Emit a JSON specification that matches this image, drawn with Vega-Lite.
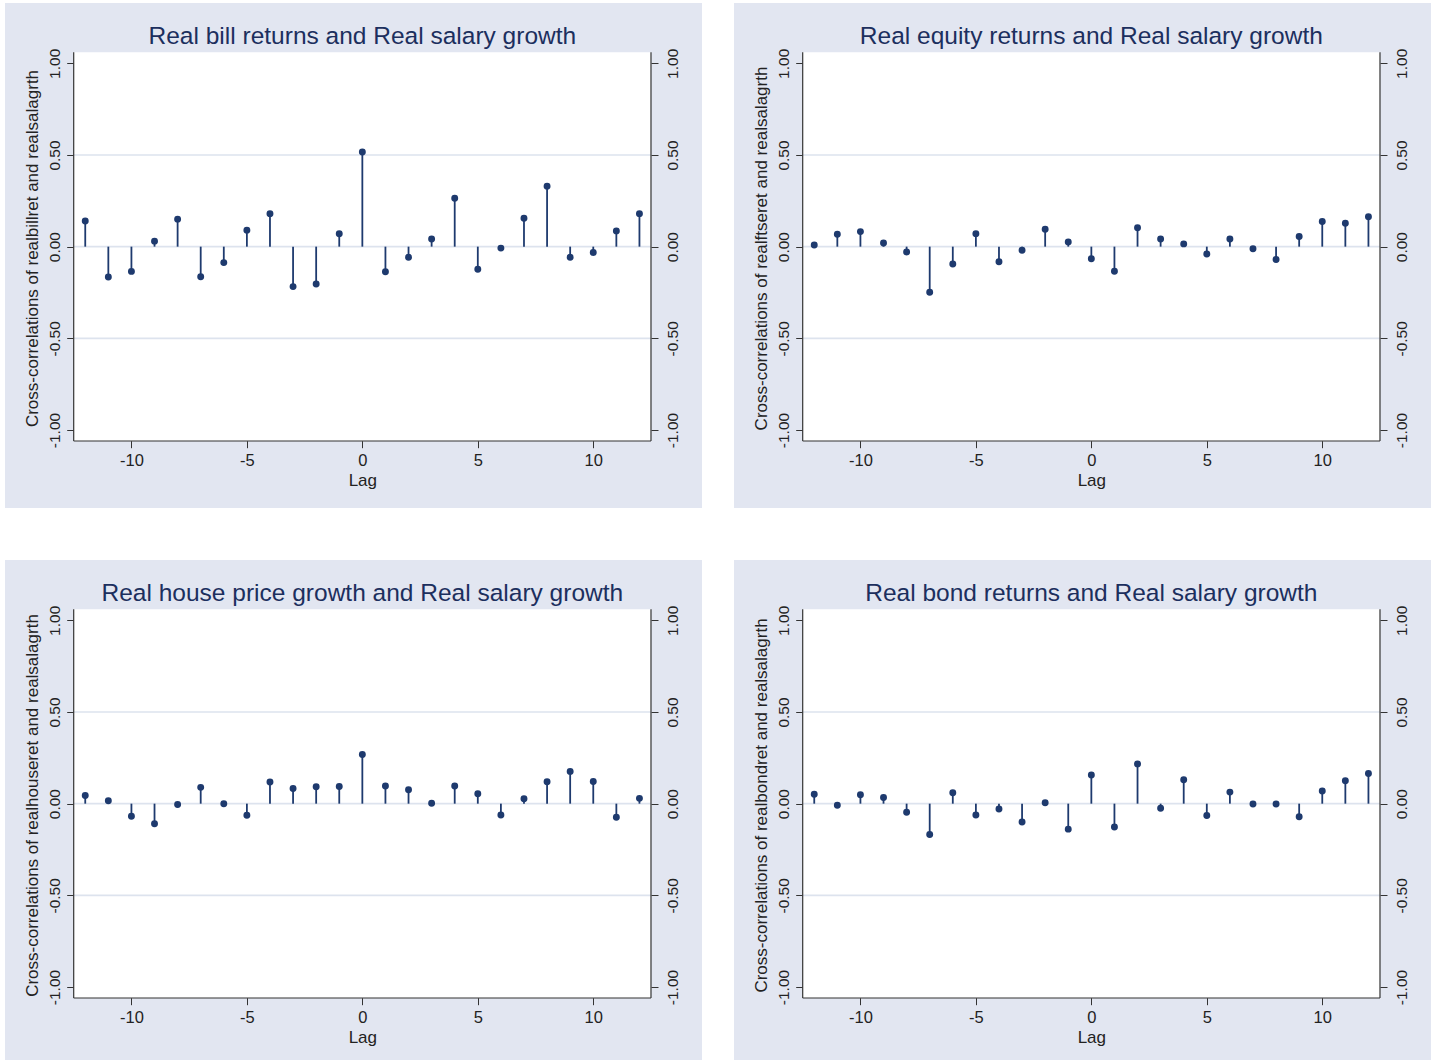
{
  "$schema": "https://vega.github.io/schema/vega-lite/v6.json",
  "padding": {"left": 5, "top": 3, "right": 0, "bottom": 0},
  "background": "white",
  "config": {
    "view": {"fill": "#e2e6f1", "stroke": null},
    "font": "Liberation Sans",
    "axis": {"labelFont": "Liberation Sans", "titleFont": "Liberation Sans"}
  },
  "datasets": {
    "bill": [
      {"lag": -12, "r": 0.14}, {"lag": -11, "r": -0.166}, {"lag": -10, "r": -0.135}, {"lag": -9, "r": 0.03},
      {"lag": -8, "r": 0.15}, {"lag": -7, "r": -0.164}, {"lag": -6, "r": -0.087}, {"lag": -5, "r": 0.09},
      {"lag": -4, "r": 0.18}, {"lag": -3, "r": -0.218}, {"lag": -2, "r": -0.204}, {"lag": -1, "r": 0.07},
      {"lag": 0, "r": 0.516}, {"lag": 1, "r": -0.137}, {"lag": 2, "r": -0.058}, {"lag": 3, "r": 0.042},
      {"lag": 4, "r": 0.264}, {"lag": 5, "r": -0.123}, {"lag": 6, "r": -0.008}, {"lag": 7, "r": 0.155},
      {"lag": 8, "r": 0.33}, {"lag": 9, "r": -0.058}, {"lag": 10, "r": -0.032}, {"lag": 11, "r": 0.086},
      {"lag": 12, "r": 0.18}
    ],
    "equity": [
      {"lag": -12, "r": 0.009}, {"lag": -11, "r": 0.068}, {"lag": -10, "r": 0.082}, {"lag": -9, "r": 0.02},
      {"lag": -8, "r": -0.029}, {"lag": -7, "r": -0.249}, {"lag": -6, "r": -0.095}, {"lag": -5, "r": 0.071},
      {"lag": -4, "r": -0.082}, {"lag": -3, "r": -0.02}, {"lag": -2, "r": 0.095}, {"lag": -1, "r": 0.026},
      {"lag": 0, "r": -0.066}, {"lag": 1, "r": -0.134}, {"lag": 2, "r": 0.103}, {"lag": 3, "r": 0.042},
      {"lag": 4, "r": 0.015}, {"lag": 5, "r": -0.04}, {"lag": 6, "r": 0.042}, {"lag": 7, "r": -0.011},
      {"lag": 8, "r": -0.07}, {"lag": 9, "r": 0.055}, {"lag": 10, "r": 0.137}, {"lag": 11, "r": 0.128},
      {"lag": 12, "r": 0.163}
    ],
    "house": [
      {"lag": -12, "r": 0.045}, {"lag": -11, "r": 0.016}, {"lag": -10, "r": -0.069}, {"lag": -9, "r": -0.11},
      {"lag": -8, "r": -0.005}, {"lag": -7, "r": 0.089}, {"lag": -6, "r": 0.0}, {"lag": -5, "r": -0.063},
      {"lag": -4, "r": 0.118}, {"lag": -3, "r": 0.083}, {"lag": -2, "r": 0.092}, {"lag": -1, "r": 0.094},
      {"lag": 0, "r": 0.268}, {"lag": 1, "r": 0.096}, {"lag": 2, "r": 0.076}, {"lag": 3, "r": 0.002},
      {"lag": 4, "r": 0.096}, {"lag": 5, "r": 0.054}, {"lag": 6, "r": -0.062}, {"lag": 7, "r": 0.027},
      {"lag": 8, "r": 0.12}, {"lag": 9, "r": 0.176}, {"lag": 10, "r": 0.121}, {"lag": 11, "r": -0.074},
      {"lag": 12, "r": 0.029}
    ],
    "bond": [
      {"lag": -12, "r": 0.051}, {"lag": -11, "r": -0.009}, {"lag": -10, "r": 0.049}, {"lag": -9, "r": 0.034},
      {"lag": -8, "r": -0.047}, {"lag": -7, "r": -0.168}, {"lag": -6, "r": 0.06}, {"lag": -5, "r": -0.062},
      {"lag": -4, "r": -0.029}, {"lag": -3, "r": -0.1}, {"lag": -2, "r": 0.005}, {"lag": -1, "r": -0.139},
      {"lag": 0, "r": 0.156}, {"lag": 1, "r": -0.127}, {"lag": 2, "r": 0.217}, {"lag": 3, "r": -0.025},
      {"lag": 4, "r": 0.13}, {"lag": 5, "r": -0.065}, {"lag": 6, "r": 0.063}, {"lag": 7, "r": -0.002},
      {"lag": 8, "r": -0.002}, {"lag": 9, "r": -0.071}, {"lag": 10, "r": 0.069}, {"lag": 11, "r": 0.125},
      {"lag": 12, "r": 0.165}
    ],
    "grid": [{"g": -0.5}, {"g": 0}, {"g": 0.5}],
    "one": [{}]
  },
  "spacing": 52,
  "vconcat": [
    {
      "spacing": 32,
      "hconcat": [
        {
          "width": 697, "height": 505,
          "title": {"text": "Real bill returns and Real salary growth", "offset": -65, "baseline": "alphabetic", "dx": 8.85, "fontSize": 24.5, "font": "Liberation Sans", "fontWeight": "normal", "color": "#1c2f5e", "anchor": "middle", "frame": "group"},
          "resolve": {"axis": {"x": "independent", "y": "independent"}},
          "layer": [
            {"data": {"name": "one"}, "mark": {"type": "rect", "fill": "white"},
             "encoding": {
               "x": {"datum": -12.5, "type": "quantitative", "scale": {"domain": [-15.475, 14.709], "nice": false, "zero": false}, "axis": null},
               "x2": {"datum": 12.5},
               "y": {"datum": -1.06, "type": "quantitative", "scale": {"domain": [-1.4254, 1.3289], "nice": false, "zero": false}, "axis": null},
               "y2": {"datum": 1.06}}},
            {"data": {"name": "grid"}, "mark": {"type": "rule", "color": "#dde3ee", "strokeWidth": 1.6},
             "encoding": {
               "x": {"datum": -12.5, "type": "quantitative", "scale": {"domain": [-15.475, 14.709], "nice": false, "zero": false}, "axis": null},
               "x2": {"datum": 12.5},
               "y": {"field": "g", "type": "quantitative", "scale": {"domain": [-1.4254, 1.3289], "nice": false, "zero": false}, "axis": null}}},
            {"data": {"name": "one"}, "mark": {"type": "rule", "color": "#333333", "strokeWidth": 1.2},
             "encoding": {
               "x": {"datum": -12.5, "type": "quantitative", "scale": {"domain": [-15.475, 14.709], "nice": false, "zero": false}, "axis": null},
               "y": {"datum": -1.06, "type": "quantitative", "scale": {"domain": [-1.4254, 1.3289], "nice": false, "zero": false}, "axis": null},
               "y2": {"datum": 1.06}}},
            {"data": {"name": "one"}, "mark": {"type": "rule", "color": "#333333", "strokeWidth": 1.2},
             "encoding": {
               "x": {"datum": 12.5, "type": "quantitative", "scale": {"domain": [-15.475, 14.709], "nice": false, "zero": false}, "axis": null},
               "y": {"datum": -1.06, "type": "quantitative", "scale": {"domain": [-1.4254, 1.3289], "nice": false, "zero": false}, "axis": null},
               "y2": {"datum": 1.06}}},
            {"data": {"name": "one"}, "mark": {"type": "rule", "color": "#333333", "strokeWidth": 1.2},
             "encoding": {
               "x": {"datum": -12.5, "type": "quantitative", "scale": {"domain": [-15.475, 14.709], "nice": false, "zero": false}, "axis": null},
               "x2": {"datum": 12.5},
               "y": {"datum": -1.06, "type": "quantitative", "scale": {"domain": [-1.4254, 1.3289], "nice": false, "zero": false}, "axis": null}}},
            {"data": {"name": "bill"}, "mark": {"type": "rule", "color": "#1e3a6e", "strokeWidth": 1.8},
             "encoding": {
               "x": {"field": "lag", "type": "quantitative", "scale": {"domain": [-15.475, 14.709], "nice": false, "zero": false},
                 "axis": {"orient": "bottom", "offset": -67.3, "values": [-10, -5, 0, 5, 10], "labelExpr": "replace(datum.label, '\u2212', '-')", "domain": false, "grid": false, "tickSize": 7, "tickColor": "#333333", "labelFontSize": 16.5, "labelColor": "#222222", "labelPadding": 5, "labelFlush": false, "title": "Lag", "titleFontSize": 17, "titleFontWeight": "normal", "titleColor": "#222222", "titleBaseline": "alphabetic", "titleAlign": "center", "titleX": 357.35, "titleY": 44.8}},
               "y": {"field": "r", "type": "quantitative", "scale": {"domain": [-1.4254, 1.3289], "nice": false, "zero": false},
                 "axis": {"orient": "left", "offset": -68.7, "values": [-1, -0.5, 0, 0.5, 1], "format": ".2f", "labelExpr": "replace(datum.label, '\u2212', '-')", "domain": false, "grid": false, "tickSize": 7, "tickColor": "#333333", "labelAngle": -90, "labelAlign": "center", "labelBaseline": "alphabetic", "labelPadding": 7.4, "labelFontSize": 15.5, "labelColor": "#222222", "labelFlush": false, "labelOverlap": false, "title": "Cross-correlations of realbillret and realsalagrth", "titleFontSize": 17, "titleFontWeight": "normal", "titleColor": "#222222", "titleAngle": -90, "titleBaseline": "alphabetic", "titleAlign": "center", "titleX": -36.2, "titleY": 245}},
               "y2": {"datum": 0}}},
            {"data": {"name": "bill"}, "mark": {"type": "point", "filled": true, "shape": "circle", "size": 48, "color": "#1e3a6e", "opacity": 1},
             "encoding": {
               "x": {"field": "lag", "type": "quantitative", "scale": {"domain": [-15.475, 14.709], "nice": false, "zero": false}, "axis": null},
               "y": {"field": "r", "type": "quantitative", "scale": {"domain": [-1.4254, 1.3289], "nice": false, "zero": false},
                 "axis": {"orient": "right", "offset": -51, "values": [-1, -0.5, 0, 0.5, 1], "format": ".2f", "labelExpr": "replace(datum.label, '\u2212', '-')", "domain": false, "grid": false, "tickSize": 7, "tickColor": "#333333", "labelAngle": -90, "labelAlign": "center", "labelBaseline": "alphabetic", "labelPadding": 19.8, "labelFontSize": 15.5, "labelColor": "#222222", "labelFlush": false, "labelOverlap": false, "title": null}}}}
          ]
        },
        {
          "width": 697, "height": 505,
          "title": {"text": "Real equity returns and Real salary growth", "offset": -65, "baseline": "alphabetic", "dx": 8.85, "fontSize": 24.5, "font": "Liberation Sans", "fontWeight": "normal", "color": "#1c2f5e", "anchor": "middle", "frame": "group"},
          "resolve": {"axis": {"x": "independent", "y": "independent"}},
          "layer": [
            {"data": {"name": "one"}, "mark": {"type": "rect", "fill": "white"},
             "encoding": {
               "x": {"datum": -12.5, "type": "quantitative", "scale": {"domain": [-15.475, 14.709], "nice": false, "zero": false}, "axis": null},
               "x2": {"datum": 12.5},
               "y": {"datum": -1.06, "type": "quantitative", "scale": {"domain": [-1.4254, 1.3289], "nice": false, "zero": false}, "axis": null},
               "y2": {"datum": 1.06}}},
            {"data": {"name": "grid"}, "mark": {"type": "rule", "color": "#dde3ee", "strokeWidth": 1.6},
             "encoding": {
               "x": {"datum": -12.5, "type": "quantitative", "scale": {"domain": [-15.475, 14.709], "nice": false, "zero": false}, "axis": null},
               "x2": {"datum": 12.5},
               "y": {"field": "g", "type": "quantitative", "scale": {"domain": [-1.4254, 1.3289], "nice": false, "zero": false}, "axis": null}}},
            {"data": {"name": "one"}, "mark": {"type": "rule", "color": "#333333", "strokeWidth": 1.2},
             "encoding": {
               "x": {"datum": -12.5, "type": "quantitative", "scale": {"domain": [-15.475, 14.709], "nice": false, "zero": false}, "axis": null},
               "y": {"datum": -1.06, "type": "quantitative", "scale": {"domain": [-1.4254, 1.3289], "nice": false, "zero": false}, "axis": null},
               "y2": {"datum": 1.06}}},
            {"data": {"name": "one"}, "mark": {"type": "rule", "color": "#333333", "strokeWidth": 1.2},
             "encoding": {
               "x": {"datum": 12.5, "type": "quantitative", "scale": {"domain": [-15.475, 14.709], "nice": false, "zero": false}, "axis": null},
               "y": {"datum": -1.06, "type": "quantitative", "scale": {"domain": [-1.4254, 1.3289], "nice": false, "zero": false}, "axis": null},
               "y2": {"datum": 1.06}}},
            {"data": {"name": "one"}, "mark": {"type": "rule", "color": "#333333", "strokeWidth": 1.2},
             "encoding": {
               "x": {"datum": -12.5, "type": "quantitative", "scale": {"domain": [-15.475, 14.709], "nice": false, "zero": false}, "axis": null},
               "x2": {"datum": 12.5},
               "y": {"datum": -1.06, "type": "quantitative", "scale": {"domain": [-1.4254, 1.3289], "nice": false, "zero": false}, "axis": null}}},
            {"data": {"name": "equity"}, "mark": {"type": "rule", "color": "#1e3a6e", "strokeWidth": 1.8},
             "encoding": {
               "x": {"field": "lag", "type": "quantitative", "scale": {"domain": [-15.475, 14.709], "nice": false, "zero": false},
                 "axis": {"orient": "bottom", "offset": -67.3, "values": [-10, -5, 0, 5, 10], "labelExpr": "replace(datum.label, '\u2212', '-')", "domain": false, "grid": false, "tickSize": 7, "tickColor": "#333333", "labelFontSize": 16.5, "labelColor": "#222222", "labelPadding": 5, "labelFlush": false, "title": "Lag", "titleFontSize": 17, "titleFontWeight": "normal", "titleColor": "#222222", "titleBaseline": "alphabetic", "titleAlign": "center", "titleX": 357.35, "titleY": 44.8}},
               "y": {"field": "r", "type": "quantitative", "scale": {"domain": [-1.4254, 1.3289], "nice": false, "zero": false},
                 "axis": {"orient": "left", "offset": -68.7, "values": [-1, -0.5, 0, 0.5, 1], "format": ".2f", "labelExpr": "replace(datum.label, '\u2212', '-')", "domain": false, "grid": false, "tickSize": 7, "tickColor": "#333333", "labelAngle": -90, "labelAlign": "center", "labelBaseline": "alphabetic", "labelPadding": 7.4, "labelFontSize": 15.5, "labelColor": "#222222", "labelFlush": false, "labelOverlap": false, "title": "Cross-correlations of realftseret and realsalagrth", "titleFontSize": 17, "titleFontWeight": "normal", "titleColor": "#222222", "titleAngle": -90, "titleBaseline": "alphabetic", "titleAlign": "center", "titleX": -36.2, "titleY": 245}},
               "y2": {"datum": 0}}},
            {"data": {"name": "equity"}, "mark": {"type": "point", "filled": true, "shape": "circle", "size": 48, "color": "#1e3a6e", "opacity": 1},
             "encoding": {
               "x": {"field": "lag", "type": "quantitative", "scale": {"domain": [-15.475, 14.709], "nice": false, "zero": false}, "axis": null},
               "y": {"field": "r", "type": "quantitative", "scale": {"domain": [-1.4254, 1.3289], "nice": false, "zero": false},
                 "axis": {"orient": "right", "offset": -51, "values": [-1, -0.5, 0, 0.5, 1], "format": ".2f", "labelExpr": "replace(datum.label, '\u2212', '-')", "domain": false, "grid": false, "tickSize": 7, "tickColor": "#333333", "labelAngle": -90, "labelAlign": "center", "labelBaseline": "alphabetic", "labelPadding": 19.8, "labelFontSize": 15.5, "labelColor": "#222222", "labelFlush": false, "labelOverlap": false, "title": null}}}}
          ]
        }
      ]
    },
    {
      "spacing": 32,
      "hconcat": [
        {
          "width": 697, "height": 500,
          "title": {"text": "Real house price growth and Real salary growth", "offset": -65, "baseline": "alphabetic", "dx": 8.85, "fontSize": 24.5, "font": "Liberation Sans", "fontWeight": "normal", "color": "#1c2f5e", "anchor": "middle", "frame": "group"},
          "resolve": {"axis": {"x": "independent", "y": "independent"}},
          "layer": [
            {"data": {"name": "one"}, "mark": {"type": "rect", "fill": "white"},
             "encoding": {
               "x": {"datum": -12.5, "type": "quantitative", "scale": {"domain": [-15.475, 14.709], "nice": false, "zero": false}, "axis": null},
               "x2": {"datum": 12.5},
               "y": {"datum": -1.06, "type": "quantitative", "scale": {"domain": [-1.398, 1.3289], "nice": false, "zero": false}, "axis": null},
               "y2": {"datum": 1.06}}},
            {"data": {"name": "grid"}, "mark": {"type": "rule", "color": "#dde3ee", "strokeWidth": 1.6},
             "encoding": {
               "x": {"datum": -12.5, "type": "quantitative", "scale": {"domain": [-15.475, 14.709], "nice": false, "zero": false}, "axis": null},
               "x2": {"datum": 12.5},
               "y": {"field": "g", "type": "quantitative", "scale": {"domain": [-1.398, 1.3289], "nice": false, "zero": false}, "axis": null}}},
            {"data": {"name": "one"}, "mark": {"type": "rule", "color": "#333333", "strokeWidth": 1.2},
             "encoding": {
               "x": {"datum": -12.5, "type": "quantitative", "scale": {"domain": [-15.475, 14.709], "nice": false, "zero": false}, "axis": null},
               "y": {"datum": -1.06, "type": "quantitative", "scale": {"domain": [-1.398, 1.3289], "nice": false, "zero": false}, "axis": null},
               "y2": {"datum": 1.06}}},
            {"data": {"name": "one"}, "mark": {"type": "rule", "color": "#333333", "strokeWidth": 1.2},
             "encoding": {
               "x": {"datum": 12.5, "type": "quantitative", "scale": {"domain": [-15.475, 14.709], "nice": false, "zero": false}, "axis": null},
               "y": {"datum": -1.06, "type": "quantitative", "scale": {"domain": [-1.398, 1.3289], "nice": false, "zero": false}, "axis": null},
               "y2": {"datum": 1.06}}},
            {"data": {"name": "one"}, "mark": {"type": "rule", "color": "#333333", "strokeWidth": 1.2},
             "encoding": {
               "x": {"datum": -12.5, "type": "quantitative", "scale": {"domain": [-15.475, 14.709], "nice": false, "zero": false}, "axis": null},
               "x2": {"datum": 12.5},
               "y": {"datum": -1.06, "type": "quantitative", "scale": {"domain": [-1.398, 1.3289], "nice": false, "zero": false}, "axis": null}}},
            {"data": {"name": "house"}, "mark": {"type": "rule", "color": "#1e3a6e", "strokeWidth": 1.8},
             "encoding": {
               "x": {"field": "lag", "type": "quantitative", "scale": {"domain": [-15.475, 14.709], "nice": false, "zero": false},
                 "axis": {"orient": "bottom", "offset": -62.3, "values": [-10, -5, 0, 5, 10], "labelExpr": "replace(datum.label, '\u2212', '-')", "domain": false, "grid": false, "tickSize": 7, "tickColor": "#333333", "labelFontSize": 16.5, "labelColor": "#222222", "labelPadding": 5, "labelFlush": false, "title": "Lag", "titleFontSize": 17, "titleFontWeight": "normal", "titleColor": "#222222", "titleBaseline": "alphabetic", "titleAlign": "center", "titleX": 357.35, "titleY": 44.8}},
               "y": {"field": "r", "type": "quantitative", "scale": {"domain": [-1.398, 1.3289], "nice": false, "zero": false},
                 "axis": {"orient": "left", "offset": -68.7, "values": [-1, -0.5, 0, 0.5, 1], "format": ".2f", "labelExpr": "replace(datum.label, '\u2212', '-')", "domain": false, "grid": false, "tickSize": 7, "tickColor": "#333333", "labelAngle": -90, "labelAlign": "center", "labelBaseline": "alphabetic", "labelPadding": 7.4, "labelFontSize": 15.5, "labelColor": "#222222", "labelFlush": false, "labelOverlap": false, "title": "Cross-correlations of realhouseret and realsalagrth", "titleFontSize": 17, "titleFontWeight": "normal", "titleColor": "#222222", "titleAngle": -90, "titleBaseline": "alphabetic", "titleAlign": "center", "titleX": -36.2, "titleY": 245}},
               "y2": {"datum": 0}}},
            {"data": {"name": "house"}, "mark": {"type": "point", "filled": true, "shape": "circle", "size": 48, "color": "#1e3a6e", "opacity": 1},
             "encoding": {
               "x": {"field": "lag", "type": "quantitative", "scale": {"domain": [-15.475, 14.709], "nice": false, "zero": false}, "axis": null},
               "y": {"field": "r", "type": "quantitative", "scale": {"domain": [-1.398, 1.3289], "nice": false, "zero": false},
                 "axis": {"orient": "right", "offset": -51, "values": [-1, -0.5, 0, 0.5, 1], "format": ".2f", "labelExpr": "replace(datum.label, '\u2212', '-')", "domain": false, "grid": false, "tickSize": 7, "tickColor": "#333333", "labelAngle": -90, "labelAlign": "center", "labelBaseline": "alphabetic", "labelPadding": 19.8, "labelFontSize": 15.5, "labelColor": "#222222", "labelFlush": false, "labelOverlap": false, "title": null}}}}
          ]
        },
        {
          "width": 697, "height": 500,
          "title": {"text": "Real bond returns and Real salary growth", "offset": -65, "baseline": "alphabetic", "dx": 8.85, "fontSize": 24.5, "font": "Liberation Sans", "fontWeight": "normal", "color": "#1c2f5e", "anchor": "middle", "frame": "group"},
          "resolve": {"axis": {"x": "independent", "y": "independent"}},
          "layer": [
            {"data": {"name": "one"}, "mark": {"type": "rect", "fill": "white"},
             "encoding": {
               "x": {"datum": -12.5, "type": "quantitative", "scale": {"domain": [-15.475, 14.709], "nice": false, "zero": false}, "axis": null},
               "x2": {"datum": 12.5},
               "y": {"datum": -1.06, "type": "quantitative", "scale": {"domain": [-1.398, 1.3289], "nice": false, "zero": false}, "axis": null},
               "y2": {"datum": 1.06}}},
            {"data": {"name": "grid"}, "mark": {"type": "rule", "color": "#dde3ee", "strokeWidth": 1.6},
             "encoding": {
               "x": {"datum": -12.5, "type": "quantitative", "scale": {"domain": [-15.475, 14.709], "nice": false, "zero": false}, "axis": null},
               "x2": {"datum": 12.5},
               "y": {"field": "g", "type": "quantitative", "scale": {"domain": [-1.398, 1.3289], "nice": false, "zero": false}, "axis": null}}},
            {"data": {"name": "one"}, "mark": {"type": "rule", "color": "#333333", "strokeWidth": 1.2},
             "encoding": {
               "x": {"datum": -12.5, "type": "quantitative", "scale": {"domain": [-15.475, 14.709], "nice": false, "zero": false}, "axis": null},
               "y": {"datum": -1.06, "type": "quantitative", "scale": {"domain": [-1.398, 1.3289], "nice": false, "zero": false}, "axis": null},
               "y2": {"datum": 1.06}}},
            {"data": {"name": "one"}, "mark": {"type": "rule", "color": "#333333", "strokeWidth": 1.2},
             "encoding": {
               "x": {"datum": 12.5, "type": "quantitative", "scale": {"domain": [-15.475, 14.709], "nice": false, "zero": false}, "axis": null},
               "y": {"datum": -1.06, "type": "quantitative", "scale": {"domain": [-1.398, 1.3289], "nice": false, "zero": false}, "axis": null},
               "y2": {"datum": 1.06}}},
            {"data": {"name": "one"}, "mark": {"type": "rule", "color": "#333333", "strokeWidth": 1.2},
             "encoding": {
               "x": {"datum": -12.5, "type": "quantitative", "scale": {"domain": [-15.475, 14.709], "nice": false, "zero": false}, "axis": null},
               "x2": {"datum": 12.5},
               "y": {"datum": -1.06, "type": "quantitative", "scale": {"domain": [-1.398, 1.3289], "nice": false, "zero": false}, "axis": null}}},
            {"data": {"name": "bond"}, "mark": {"type": "rule", "color": "#1e3a6e", "strokeWidth": 1.8},
             "encoding": {
               "x": {"field": "lag", "type": "quantitative", "scale": {"domain": [-15.475, 14.709], "nice": false, "zero": false},
                 "axis": {"orient": "bottom", "offset": -62.3, "values": [-10, -5, 0, 5, 10], "labelExpr": "replace(datum.label, '\u2212', '-')", "domain": false, "grid": false, "tickSize": 7, "tickColor": "#333333", "labelFontSize": 16.5, "labelColor": "#222222", "labelPadding": 5, "labelFlush": false, "title": "Lag", "titleFontSize": 17, "titleFontWeight": "normal", "titleColor": "#222222", "titleBaseline": "alphabetic", "titleAlign": "center", "titleX": 357.35, "titleY": 44.8}},
               "y": {"field": "r", "type": "quantitative", "scale": {"domain": [-1.398, 1.3289], "nice": false, "zero": false},
                 "axis": {"orient": "left", "offset": -68.7, "values": [-1, -0.5, 0, 0.5, 1], "format": ".2f", "labelExpr": "replace(datum.label, '\u2212', '-')", "domain": false, "grid": false, "tickSize": 7, "tickColor": "#333333", "labelAngle": -90, "labelAlign": "center", "labelBaseline": "alphabetic", "labelPadding": 7.4, "labelFontSize": 15.5, "labelColor": "#222222", "labelFlush": false, "labelOverlap": false, "title": "Cross-correlations of realbondret and realsalagrth", "titleFontSize": 17, "titleFontWeight": "normal", "titleColor": "#222222", "titleAngle": -90, "titleBaseline": "alphabetic", "titleAlign": "center", "titleX": -36.2, "titleY": 245}},
               "y2": {"datum": 0}}},
            {"data": {"name": "bond"}, "mark": {"type": "point", "filled": true, "shape": "circle", "size": 48, "color": "#1e3a6e", "opacity": 1},
             "encoding": {
               "x": {"field": "lag", "type": "quantitative", "scale": {"domain": [-15.475, 14.709], "nice": false, "zero": false}, "axis": null},
               "y": {"field": "r", "type": "quantitative", "scale": {"domain": [-1.398, 1.3289], "nice": false, "zero": false},
                 "axis": {"orient": "right", "offset": -51, "values": [-1, -0.5, 0, 0.5, 1], "format": ".2f", "labelExpr": "replace(datum.label, '\u2212', '-')", "domain": false, "grid": false, "tickSize": 7, "tickColor": "#333333", "labelAngle": -90, "labelAlign": "center", "labelBaseline": "alphabetic", "labelPadding": 19.8, "labelFontSize": 15.5, "labelColor": "#222222", "labelFlush": false, "labelOverlap": false, "title": null}}}}
          ]
        }
      ]
    }
  ]
}
